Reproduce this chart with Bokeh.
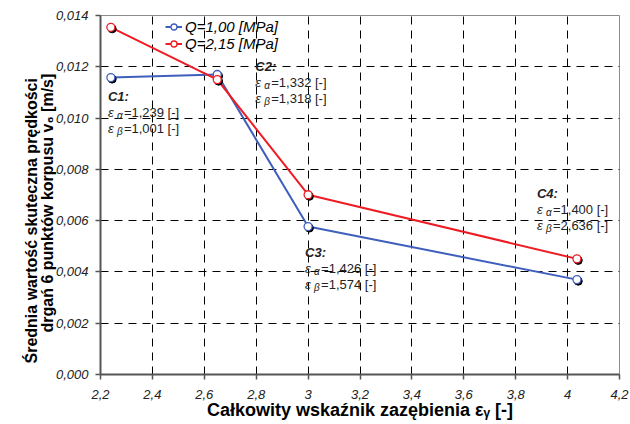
from bokeh.plotting import figure
from bokeh.models import (Range1d, FixedTicker, Label, Legend, LegendItem, ColumnDataSource,
                          Title)
from bokeh.transform import dodge
from bokeh.embed import file_html
from bokeh.resources import INLINE

# ---------------- data ----------------
eps_gamma = [2.240, 2.650, 3.000, 4.036]
v6_q100 = [0.01158, 0.01170, 0.00577, 0.00370]
v6_q215 = [0.01354, 0.01150, 0.00701, 0.00451]
series_names = ["Q=1,00 [MPa]", "Q=2,15 [MPa]"]

case_names = ["C1:", "C2:", "C3:", "C4:"]
eps_alpha = ["1,239", "1,332", "1,426", "1,400"]
eps_beta = ["1,001", "1,318", "1,574", "2,636"]

x_ticks = [2.2, 2.4, 2.6, 2.8, 3.0, 3.2, 3.4, 3.6, 3.8, 4.0, 4.2]
x_tick_labels = ["2,2", "2,4", "2,6", "2,8", "3", "3,2", "3,4", "3,6", "3,8", "4", "4,2"]
y_ticks = [0.0, 0.002, 0.004, 0.006, 0.008, 0.010, 0.012, 0.014]
y_tick_labels = ["0,000", "0,002", "0,004", "0,006", "0,008", "0,010", "0,012", "0,014"]

x_title = "Całkowity wskaźnik zazębienia εᵧ [-]"
y_title_lines = ["Średnia wartość skuteczna prędkości", "drgań 6 punktów korpusu v₆ [m/s]"]

# ---------------- style ----------------
FONT = "Liberation Sans"
BLUE = "#3f5fbd"
RED = "#ee1c24"

p = figure(width=630, height=424, output_backend="svg", toolbar_location=None,
           x_range=Range1d(2.2, 4.2), y_range=Range1d(0.0, 0.014),
           min_border_left=100, min_border_right=11, min_border_top=15, min_border_bottom=50,
           background_fill_color="white", border_fill_color="white")
p.outline_line_color = "#8c8c8c"
p.outline_line_width = 1

for ax, ticks, labels in ((p.xaxis, x_ticks, x_tick_labels), (p.yaxis, y_ticks, y_tick_labels)):
    ax.ticker = FixedTicker(ticks=ticks)
    ax.major_label_overrides = {t: l for t, l in zip(ticks, labels)}
    ax.minor_tick_line_color = None
    ax.major_tick_in = 0
    ax.major_tick_out = 5
    ax.major_tick_line_color = "#555555"
    ax.major_tick_line_width = 1.5
    ax.axis_line_color = "#555555"
    ax.axis_line_width = 2
    ax.major_label_text_font = FONT
    ax.major_label_text_font_style = "italic"
    ax.major_label_text_font_size = "13px"
    ax.major_label_text_color = "#222222"
    ax.axis_label_text_font = FONT
    ax.axis_label_text_font_style = "bold"
    ax.axis_label_text_color = "black"

p.xaxis.major_label_standoff = 10
p.yaxis.major_label_standoff = 7
p.xaxis.axis_label = x_title
p.xaxis.axis_label_text_font_size = "18px"
p.xaxis.axis_label_standoff = -2

# y title: two rotated lines as side titles, anchored at their start (bottom)
for txt, off, so in ((y_title_lines[1], 42, -6), (y_title_lines[0], 11, 0)):
    p.add_layout(Title(text=txt, align="left", offset=off, standoff=so,
                       text_font=FONT, text_font_style="bold", text_font_size="16px",
                       text_color="black"), "left")

for g, ticks in ((p.xgrid, x_ticks), (p.ygrid, y_ticks)):
    g.ticker = FixedTicker(ticks=ticks)
    g.grid_line_color = "black"
    g.grid_line_dash = "8 6"
    g.grid_line_width = 1
    g.grid_line_alpha = 1

src = ColumnDataSource(dict(x=eps_gamma, q100=v6_q100, q215=v6_q215))

# lines
l1 = p.line("x", "q100", source=src, line_color=BLUE, line_width=2)
l2 = p.line("x", "q215", source=src, line_color=RED, line_width=2)

# marker shadows (offset a little down-right)
for col in ("q100", "q215"):
    p.scatter(dodge("x", 0.005), dodge(col, -0.00006), source=src, marker="circle",
              size=8, fill_color="black", line_color="black")
s1 = p.scatter("x", "q100", source=src, marker="circle", size=8, fill_color="white",
               line_color=BLUE, line_width=1.3)
s2 = p.scatter("x", "q215", source=src, marker="circle", size=8, fill_color="white",
               line_color=RED, line_width=1.3)

legend = Legend(items=[LegendItem(label=series_names[0], renderers=[l1, s1]),
                       LegendItem(label=series_names[1], renderers=[l2, s2])],
                location=(65, 322), border_line_color=None, background_fill_alpha=0,
                padding=0, margin=0, spacing=0,
                label_text_font=FONT, label_text_font_style="italic",
                label_text_font_size="15px", label_text_color="black",
                label_height=15, glyph_height=15, glyph_width=17, label_standoff=3)
p.add_layout(legend)

# case annotations: anchored to a data point, shifted in pixels
anchor_series = [v6_q100, v6_q100, v6_q100, v6_q215]
offsets = [(-3, -19), (38, 8), (-3, -26), (-40, 65)]
for i in range(4):
    dx, dy = offsets[i]
    common = dict(x=eps_gamma[i], y=anchor_series[i][i], text_font=FONT, text_font_size="13px",
                  text_baseline="middle", text_color="#222222")
    p.add_layout(Label(text=case_names[i], x_offset=dx, y_offset=dy,
                       text_font_style="bold italic", **common))
    for j, (sub, val) in enumerate((("α", eps_alpha[i]), ("β", eps_beta[i]))):
        yy = dy - 16 * (j + 1)
        p.add_layout(Label(text="ε", x_offset=dx, y_offset=yy, text_font_style="italic", **common))
        c2 = dict(common)
        c2["text_font_size"] = "10px"
        p.add_layout(Label(text=sub, x_offset=dx + 9, y_offset=yy - 3, text_font_style="italic", **c2))
        p.add_layout(Label(text="=" + val + " [-]", x_offset=dx + 16, y_offset=yy, **common))

open("out.html", "w").write(file_html(p, INLINE))
